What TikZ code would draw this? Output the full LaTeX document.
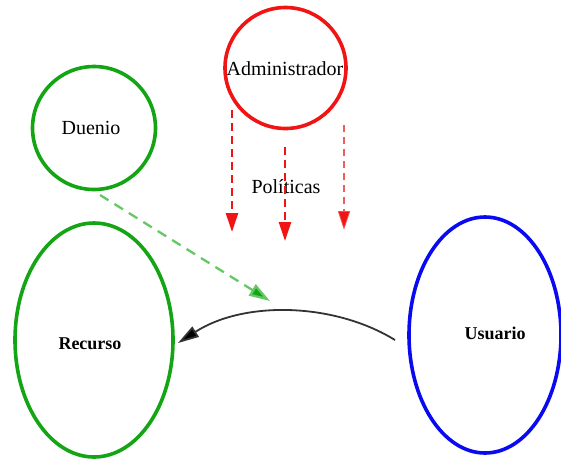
\documentclass[tikz,border=0pt]{standalone}
\usepackage{fontspec}
\setmainfont{Liberation Serif}
\usetikzlibrary{arrows.meta,shapes.geometric}
\definecolor{ngreen}{RGB}{20,165,20}
\definecolor{lgreen}{RGB}{100,200,100}
\definecolor{nred}{RGB}{240,20,20}
\definecolor{nblue}{RGB}{10,10,240}
\tikzset{
  circ/.style={circle, draw, line width=3.6pt, inner sep=0pt, minimum size=121pt},
  ell/.style={ellipse, draw, line width=3.6pt, inner sep=0pt},
  lbl/.style={font=\fontsize{20}{22}\selectfont},
  blbl/.style={font=\fontsize{18}{20}\selectfont\bfseries},
  redarr/.style={draw=nred, line width=2.6pt, dash pattern=on 8pt off 5pt, -{Triangle[length=19pt,width=12pt,fill=nred]}},
}
\begin{document}
\begin{tikzpicture}[x=1pt,y=-1pt]
\useasboundingbox (0,0) rectangle (561,459);
\node[circ, draw=nred] (admin) at (285.5,68) {};
\node[lbl] (admintxt) at (285,69) {Administrador};
\node[circ, draw=ngreen, minimum size=123pt] (duenio) at (94,128) {};
\node[lbl] (duetxt) at (91,128) {Duenio};
\node[ell, draw=ngreen, minimum width=158pt, minimum height=234pt] (recurso) at (94,340) {};
\node[blbl] (rectxt) at (90,344) {Recurso};
\node[ell, draw=nblue, minimum width=152pt, minimum height=236pt] (usuario) at (485,335) {};
\node[blbl] (usutxt) at (495,333) {Usuario};
\node[lbl] (pol) at (286,187) {Políticas};
% red policy arrows
\coordinate (r1s) at (232,110); \coordinate (r1e) at (232,232);
\coordinate (r2s) at (285,147); \coordinate (r2e) at (285,241);
\coordinate (r3s) at (344,125); \coordinate (r3e) at (344,230);
\draw[redarr] (r1s) -- (r1e);
\draw[redarr] (r2s) -- (r2e);
\draw[redarr, line width=1.7pt, draw opacity=0.7, dash pattern=on 7pt off 5pt] (r3s) -- (r3e);
% green dashed arrow
\coordinate (g1) at (100,195); \coordinate (g2) at (270,301);
\draw[draw=lgreen, line width=2.3pt, dash pattern=on 10pt off 7pt, -{Triangle[length=21pt,width=13pt,fill=ngreen]}] (g1) -- (g2);
% black curved arrow
\coordinate (b1) at (395,340); \coordinate (b2) at (178,343);
\draw[black!80, line width=1.8pt, -{Triangle[length=21pt,width=12pt,fill=black]}] (b1) .. controls (335,303) and (245,300) .. (b2);
\end{tikzpicture}
\end{document}
